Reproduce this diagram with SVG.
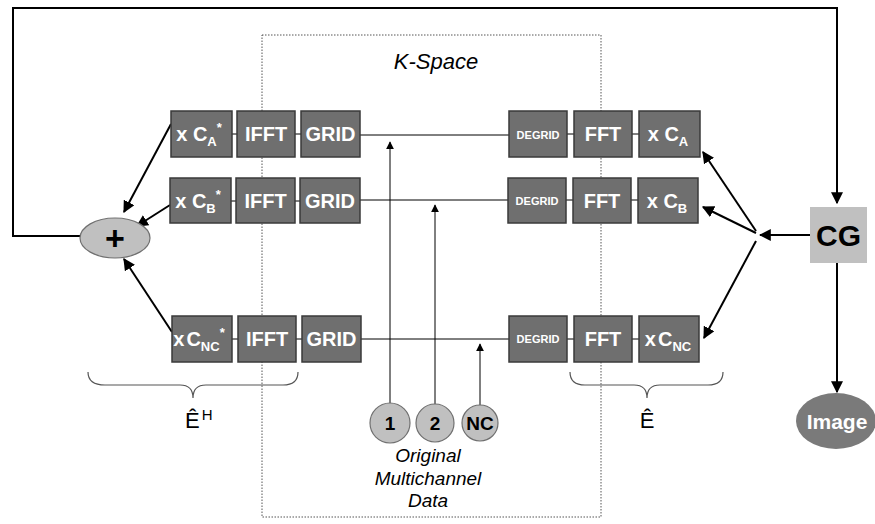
<svg xmlns="http://www.w3.org/2000/svg" width="875" height="524" viewBox="0 0 875 524">
<defs>
<marker id="ah" viewBox="0 0 10 10" refX="9" refY="5" markerWidth="8" markerHeight="8" markerUnits="userSpaceOnUse" orient="auto"><path d="M0,0 L10,5 L0,10 z" fill="#000"/></marker>
<marker id="ah2" viewBox="0 0 10 10" refX="9" refY="5" markerWidth="12" markerHeight="12" markerUnits="userSpaceOnUse" orient="auto"><path d="M0,0 L10,5 L0,10 z" fill="#000"/></marker>
<style>
.box{fill:#6f6f6f;stroke:#3a3a3a;stroke-width:1.5}
.bt{font-family:"Liberation Sans",Arial,sans-serif;font-weight:bold;fill:#fff;font-size:20px;text-anchor:middle}
.sm{font-size:11px}
.sub{font-size:13px}
.ln{stroke:#000;stroke-width:1;fill:none}
.ar{stroke:#000;stroke-width:2;fill:none}
.circ{fill:#c0c0c0;stroke:#707070;stroke-width:1.2}
.ct{font-family:"Liberation Sans",Arial,sans-serif;font-weight:bold;fill:#000;font-size:19px;text-anchor:middle}
.it{font-family:"Liberation Sans",Arial,sans-serif;font-style:italic;fill:#000;font-size:19px;text-anchor:middle}
.brace{stroke:#555;stroke-width:1.2;fill:none}
.eh{font-family:"Liberation Sans",Arial,sans-serif;fill:#000;font-size:22px}
</style>
</defs>
<rect x="262" y="35" width="339" height="482" fill="none" stroke="#555" stroke-width="1" stroke-dasharray="1.5,1.5"/>
<text x="436" y="69" class="it" style="font-size:22px">K-Space</text>
<g id="connectors">
<line class="ln" x1="360" y1="135" x2="509" y2="135"/>
<line class="ln" x1="360" y1="200" x2="508" y2="200"/>
<line class="ln" x1="361" y1="339" x2="509" y2="339"/>
<line class="ln" x1="232" y1="134" x2="237" y2="134"/>
<line class="ln" x1="295" y1="134" x2="301" y2="134"/>
<line class="ln" x1="231" y1="201" x2="236" y2="201"/>
<line class="ln" x1="295" y1="201" x2="300" y2="201"/>
<line class="ln" x1="232" y1="339" x2="238" y2="339"/>
<line class="ln" x1="296" y1="339" x2="302" y2="339"/>
<line class="ln" x1="567" y1="134" x2="574" y2="134"/>
<line class="ln" x1="632" y1="134" x2="639" y2="134"/>
<line class="ln" x1="566" y1="200" x2="573" y2="200"/>
<line class="ln" x1="631" y1="200" x2="638" y2="200"/>
<line class="ln" x1="567" y1="339" x2="574" y2="339"/>
<line class="ln" x1="632" y1="339" x2="639" y2="339"/>
<line class="ln" x1="390" y1="403" x2="390" y2="142" stroke-width="1.5" marker-end="url(#ah)"/>
<line class="ln" x1="435" y1="404" x2="435" y2="205" stroke-width="1.5" marker-end="url(#ah)"/>
<line class="ln" x1="480" y1="405" x2="480" y2="344" stroke-width="1.5" marker-end="url(#ah)"/>
<polyline class="ar" points="80,236 13,236 13,8 837,8 837,203" marker-end="url(#ah2)"/>
<line class="ar" x1="810" y1="235" x2="760" y2="235" marker-end="url(#ah2)"/>
<line class="ar" x1="756" y1="231" x2="703" y2="152" marker-end="url(#ah2)"/>
<line class="ar" x1="756" y1="233" x2="703" y2="207" marker-end="url(#ah2)"/>
<line class="ar" x1="756" y1="241" x2="704" y2="338" marker-end="url(#ah2)"/>
<line class="ar" x1="837" y1="263" x2="837" y2="392" marker-end="url(#ah2)"/>
<line class="ar" x1="171" y1="124" x2="124" y2="212" marker-end="url(#ah2)"/>
<line class="ar" x1="170" y1="205" x2="137" y2="226" marker-end="url(#ah2)"/>
<line class="ar" x1="172" y1="332" x2="124" y2="259" marker-end="url(#ah2)"/>
</g>
<g id="rowA-left">
<rect class="box" x="171" y="111" width="61" height="46"/>
<text class="bt" x="199" y="141">x C<tspan class="sub" dy="5">A</tspan><tspan class="sub" dy="-14">*</tspan></text>
<rect class="box" x="237" y="111" width="58" height="46"/>
<text class="bt" x="266" y="141">IFFT</text>
<rect class="box" x="301" y="111" width="59" height="46"/>
<text class="bt" x="330.5" y="141">GRID</text>
</g>
<g id="rowB-left">
<rect class="box" x="170" y="178" width="61" height="45"/>
<text class="bt" x="198" y="208">x C<tspan class="sub" dy="5">B</tspan><tspan class="sub" dy="-14">*</tspan></text>
<rect class="box" x="236" y="178" width="59" height="45"/>
<text class="bt" x="265.5" y="208">IFFT</text>
<rect class="box" x="300" y="178" width="60" height="45"/>
<text class="bt" x="330" y="208">GRID</text>
</g>
<g id="rowNC-left">
<rect class="box" x="172" y="316" width="60" height="46"/>
<text class="bt" x="199" y="346">x<tspan dx="2">C</tspan><tspan class="sub" dy="5">NC</tspan><tspan class="sub" dy="-14">*</tspan></text>
<rect class="box" x="238" y="316" width="58" height="46"/>
<text class="bt" x="267" y="346">IFFT</text>
<rect class="box" x="302" y="316" width="59" height="46"/>
<text class="bt" x="331.5" y="346">GRID</text>
</g>
<g id="rowA-right">
<rect class="box" x="509" y="111" width="58" height="46"/>
<text class="bt sm" x="538" y="139">DEGRID</text>
<rect class="box" x="574" y="111" width="58" height="46"/>
<text class="bt" x="603" y="141">FFT</text>
<rect class="box" x="639" y="111" width="61" height="46"/>
<text class="bt" x="668" y="141">x C<tspan class="sub" dy="5">A</tspan></text>
</g>
<g id="rowB-right">
<rect class="box" x="508" y="178" width="58" height="45"/>
<text class="bt sm" x="537" y="205">DEGRID</text>
<rect class="box" x="573" y="178" width="58" height="45"/>
<text class="bt" x="602" y="208">FFT</text>
<rect class="box" x="638" y="178" width="60" height="45"/>
<text class="bt" x="667" y="208">x C<tspan class="sub" dy="5">B</tspan></text>
</g>
<g id="rowNC-right">
<rect class="box" x="509" y="316" width="58" height="46"/>
<text class="bt sm" x="538" y="343">DEGRID</text>
<rect class="box" x="574" y="316" width="58" height="46"/>
<text class="bt" x="603" y="346">FFT</text>
<rect class="box" x="639" y="316" width="60" height="46"/>
<text class="bt" x="668" y="346">x<tspan dx="2">C</tspan><tspan class="sub" dy="5">NC</tspan></text>
</g>
<g id="sum">
<ellipse class="circ" cx="115" cy="238" rx="35" ry="20" stroke="#222" stroke-width="1.5"/>
<text class="ct" x="115" y="250" style="font-size:34px">+</text>
</g>
<g id="cg">
<rect x="810" y="207" width="57" height="56" fill="#c0c0c0"/>
<text class="ct" x="838.5" y="246" style="font-size:30px">CG</text>
</g>
<g id="image">
<ellipse cx="836" cy="421" rx="40" ry="28" fill="#7a7a7a"/>
<text class="bt" x="837" y="429" style="font-size:21px">Image</text>
</g>
<g id="ch1"><circle class="circ" cx="390" cy="423" r="20"/><text class="ct" x="390" y="430">1</text></g>
<g id="ch2"><circle class="circ" cx="435" cy="423" r="19"/><text class="ct" x="435" y="430">2</text></g>
<g id="chNC"><circle class="circ" cx="480" cy="423" r="18"/><text class="ct" x="480" y="430">NC</text></g>
<text class="it" x="428" y="462">Original</text>
<text class="it" x="428" y="485">Multichannel</text>
<text class="it" x="428" y="507">Data</text>
<path class="brace" d="M88,372 Q88,385 105,385 L180,385 Q193,385 193,398 Q193,385 206,385 L283,385 Q298,385 298,372"/>
<path class="brace" d="M570,372 Q570,385 585,385 L634,385 Q647,385 647,398 Q647,385 660,385 L708,385 Q723,385 723,372"/>
<text class="eh" x="185" y="428">Ê<tspan font-size="15" dx="2" dy="-8">H</tspan></text>
<text class="eh" x="647" y="428" text-anchor="middle">Ê</text>
</svg>
